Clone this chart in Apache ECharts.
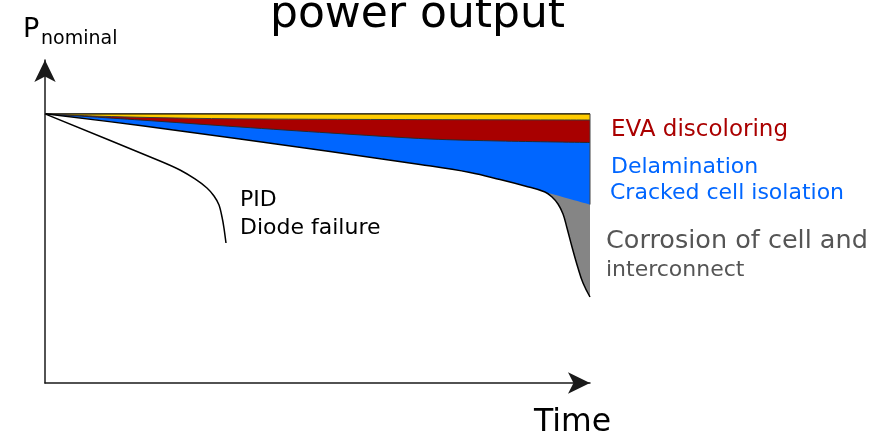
<!DOCTYPE html>
<html><head><meta charset="utf-8">
<script src="https://cdn.jsdelivr.net/npm/echarts@6/dist/echarts.min.js"></script>
<style>html,body{margin:0;padding:0;background:#fff}#c{width:884px;height:441px}</style>
</head><body><div id="c"></div>
<script>
// Boundary curves of the stacked degradation bands: [time, power] (nominal power = 100)
var topCurve = [[0, 100], [100, 100]];
var yellowBottom = [[0, 100], [10.09, 99.1], [28.44, 98.3], [46.79, 98.0], [100, 97.7]];
var redBottom = [[0, 100], [17.43, 97.71], [35.78, 95.11], [52.29, 92.88], [70.64, 90.65], [83.49, 89.91], [100, 89.35]];
var blueBottom = [[0, 100], [17.43, 95.66], [35.78, 90.65], [52.29, 86.0], [68.81, 81.18], [77.98, 78.2], [83.49, 75.6], [88.07, 73.19], [91.74, 70.96]];
var blueEnd = [100, 66.31];
var grayBottom = [[93.03, 69.1], [94.13, 66.5], [95.05, 62.79], [95.78, 57.58], [96.7, 50.52], [97.8, 42.72], [98.72, 37.15], [100, 31.95]];
var pidCurve = [[0, 100], [21.1, 82.48], [24.77, 79.13], [27.52, 75.79], [29.72, 72.44], [31.01, 69.47], [31.93, 66.13], [32.48, 61.67], [32.84, 57.58], [33.21, 52.01]];

var labels = {
  title: 'power output', yName: 'P', ySub: 'nominal', xName: 'Time',
  eva: 'EVA discoloring', delam: 'Delamination', cracked: 'Cracked cell isolation',
  corr1: 'Corrosion of cell and', corr2: 'interconnect', pid: 'PID', diode: 'Diode failure'
};

var FONT = '"DejaVu Sans", Verdana, sans-serif';
var chart = echarts.init(document.getElementById('c'), null, {renderer: 'canvas'});

function band(name, data, fill, lineColor, lineWidth, smooth) {
  return {
    name: name, type: 'line', data: data, symbol: 'none', smooth: smooth || false,
    silent: true,
    lineStyle: {color: lineColor, width: lineWidth},
    areaStyle: {color: fill, opacity: 1}
  };
}

function txt(text, x, y, size, color) {
  return {type: 'text', x: x, y: y, z: 100, silent: true,
    style: {text: text, font: size + 'px ' + FONT, fill: color, verticalAlign: 'top'}};
}

var axisArrow = {show: true, onZero: false, symbol: ['none', 'arrow'], symbolSize: [16, 22], symbolOffset: [0, 0],
  lineStyle: {color: '#1a1a1a', width: 1.5}};

var option = {
  animation: false,
  backgroundColor: '#ffffff',
  grid: {left: 45, right: 294, top: 60, bottom: 58},
  xAxis: {
    type: 'value', min: 0, max: 100, z: 10, axisLine: axisArrow,
    axisTick: {show: false}, axisLabel: {show: false}, splitLine: {show: false}
  },
  yAxis: {
    type: 'value', min: 0, max: 120, z: 10, axisLine: axisArrow,
    axisTick: {show: false}, axisLabel: {show: false}, splitLine: {show: false}
  },
  series: [
    band('yellow', topCurve, '#FFCC00', '#000000', 1.2),
    band('red', yellowBottom, '#A80000', '#3a3a3a', 1, 0.3),
    band('blue', redBottom, '#0066FF', '#2a2a2a', 1, 0.3),
    band('gray', blueBottom.concat([blueEnd]), '#858585', '#858585', 0, 0.4),
    band('white', blueBottom.concat(grayBottom), '#ffffff', '#000000', 1.5, 0.4),
    {name: 'edge', type: 'line', data: [topCurve[1], blueEnd], symbol: 'none', silent: true,
      lineStyle: {color: '#444', width: 1}},
    {name: 'PID', type: 'line', data: pidCurve, symbol: 'none', smooth: 0.3, silent: true,
      lineStyle: {color: '#000', width: 1.5}}
  ],
  graphic: [
    txt(labels.title, 270, -6, 44, '#000'),
    txt(labels.yName, 23, 16, 27, '#000'),
    txt(labels.ySub, 41, 30, 19, '#000'),
    txt(labels.xName, 534, 407, 31.5, '#000'),
    txt(labels.eva, 611, 119, 23, '#AA0000'),
    txt(labels.delam, 611, 156, 22, '#0066FF'),
    txt(labels.cracked, 610, 182.5, 22, '#0066FF'),
    txt(labels.corr1, 606, 228, 25.5, '#555555'),
    txt(labels.corr2, 606, 259, 22, '#555555'),
    txt(labels.pid, 240, 189, 22, '#000'),
    txt(labels.diode, 240, 217.5, 22, '#000')
  ]
};
chart.setOption(option);
</script></body></html>
